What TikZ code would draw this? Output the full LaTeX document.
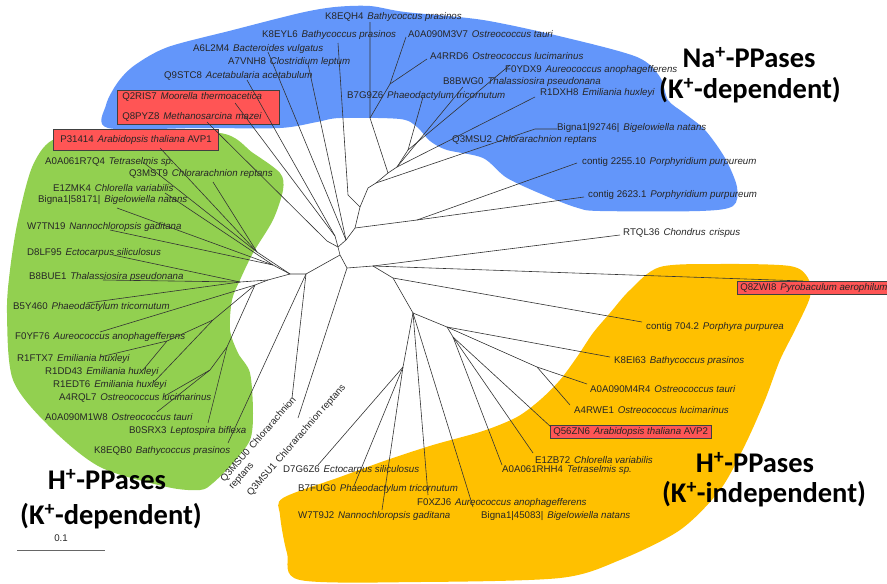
\documentclass[tikz,border=0pt]{standalone}
\usepackage{fontspec}
\setmainfont{Liberation Sans}
\newfontfamily\bigfont{Carlito}
\usepackage{tikz}
\usetikzlibrary{positioning, calc}
\definecolor{naBlue}{RGB}{99,150,250}
\definecolor{hGreen}{RGB}{146,208,80}
\definecolor{hOrange}{RGB}{255,192,0}
\definecolor{boxRed}{RGB}{255,85,85}
\newcommand{\idgap}{\hspace{0.4em}}
\newcommand{\leafname}[2]{#1\idgap\textit{#2}}

\begin{document}
\begin{tikzpicture}[x=1pt, y=-1pt,
	leaf/.style={anchor=west, inner sep=0pt, font=\fontsize{9.7}{11}\selectfont, text=black!85},
	redleaf/.style={leaf, fill=boxRed, draw=black!75, line width=0.6pt, inner xsep=3pt, minimum height=13pt},
	branch/.style={draw=black!80, line width=0.6pt},
	group/.style={font=\bigfont\bfseries\fontsize{28.5}{30}\selectfont, inner sep=0pt}]
	\useasboundingbox (0,0) rectangle (887,584);
	
	% clade areas
	\fill[naBlue] plot[smooth cycle, tension=0.5] coordinates {(108,128) (106,105) (118,82) (135,65) (168,47) (233,30) (300,13) (335,7) (370,6) (405,12) (483,20) (563,37) (637,57) (660,77) (668,100) (684,113) (705,130) (725,158) (737,187) (733,206) (700,211) (600,211) (578,208) (546,196) (507,178) (483,158) (447,150) (430,141) (417,127) (400,119) (340,118) (317,122) (280,128) (200,128)};
	\fill[hGreen] plot[smooth cycle, tension=0.5] coordinates {(57,138) (120,135) (220,133) (253,153) (280,173) (283,190) (273,220) (253,253) (240,280) (232,300) (230,330) (238,353) (250,373) (253,413) (250,440) (233,463) (213,483) (200,490) (167,487) (100,467) (50,427) (13,380) (7,313) (10,270) (18,220) (33,165)};
	\fill[hOrange] plot[smooth cycle, tension=0.5] coordinates {(283,498) (340,477) (387,460) (433,445) (483,431) (517,417) (540,400) (560,380) (577,357) (593,333) (610,313) (630,290) (660,267) (720,264) (790,266) (808,278) (810,297) (795,330) (780,360) (765,400) (745,445) (720,490) (680,530) (620,560) (560,578) (420,582) (300,580) (287,553) (280,515)};
	
	% Na+-PPases labels
	\node[leaf] (l-k8eqh4) at (325,17) {\leafname{K8EQH4}{Bathycoccus prasinos}};
	\node[leaf] (l-k8eyl6) at (262,35) {\leafname{K8EYL6}{Bathycoccus prasinos}};
	\node[leaf] (l-m3v7) at (408,34) {\leafname{A0A090M3V7}{Ostreococcus tauri}};
	\node[leaf] (l-a6l2m4) at (193,49) {\leafname{A6L2M4}{Bacteroides vulgatus}};
	\node[leaf] (l-a4rrd6) at (430,56) {\leafname{A4RRD6}{Ostreococcus lucimarinus}};
	\node[leaf] (l-a7vnh8) at (228,62) {\leafname{A7VNH8}{Clostridium leptum}};
	\node[leaf] (l-f0ydx9) at (505,70) {\leafname{F0YDX9}{Aureococcus anophagefferens}};
	\node[leaf] (l-q9stc8) at (164,76) {\leafname{Q9STC8}{Acetabularia acetabulum}};
	\node[leaf] (l-b8bwg0) at (443,82) {\leafname{B8BWG0}{Thalassiosira pseudonana}};
	\node[leaf] (l-b7g9z6) at (347,96) {\leafname{B7G9Z6}{Phaeodactylum tricornutum}};
	\node[leaf] (l-r1dxh8) at (540,93) {\leafname{R1DXH8}{Emiliania huxleyi}};
	\node[leaf] (l-bigna92) at (557,128) {\leafname{Bigna1|92746|}{Bigelowiella natans}};
	\node[leaf] (l-q3msu2) at (452,140) {\leafname{Q3MSU2}{Chlorarachnion reptans}};
	\node[leaf] (l-c2255) at (582,162) {\leafname{contig 2255.10}{Porphyridium purpureum}};
	\node[leaf] (l-c2623) at (588,195) {\leafname{contig 2623.1}{Porphyridium purpureum}};
	\node[redleaf, anchor=north west, align=left, text width=152pt, inner xsep=5pt, inner ysep=2.5pt] (l-q2ris7) at (117,90) {\leafname{Q2RIS7}{Moorella thermoacetica}\\[9pt]\leafname{Q8PYZ8}{Methanosarcina mazei}};
	\node[leaf] (l-rtql36) at (623,233) {\leafname{RTQL36}{Chondrus\idgap crispus}};
	\node[redleaf] (l-q8zwi8) at (737,287.5) {\leafname{Q8ZWI8}{Pyrobaculum aerophilum}};
	
	% H+-PPases (K+-independent) labels
	\node[leaf] (l-c704) at (646,327) {\leafname{contig 704.2}{Porphyra purpurea}};
	\node[leaf] (l-k8ei63) at (614,361) {\leafname{K8EI63}{Bathycoccus prasinos}};
	\node[leaf] (l-m4r4) at (590,389) {\leafname{A0A090M4R4}{Ostreococcus tauri}};
	\node[leaf] (l-a4rwe1) at (574,410) {\leafname{A4RWE1}{Ostreococcus lucimarinus}};
	\node[redleaf] (l-q56zn6) at (550,432) {Q56ZN6\idgap\textit{Arabidopsis thaliana} AVP2};
	\node[leaf] (l-e1zb72) at (535,460) {\leafname{E1ZB72}{Chlorella variabilis}};
	\node[leaf] (l-rhh4) at (502,470) {\leafname{A0A061RHH4}{Tetraselmis sp.}};
	\node[leaf] (l-d7g6z6) at (283,470) {\leafname{D7G6Z6}{Ectocarpus siliculosus}};
	\node[leaf] (l-b7fug0) at (298,489) {\leafname{B7FUG0}{Phaeodactylum tricornutum}};
	\node[leaf] (l-f0xzj6) at (417,503) {\leafname{F0XZJ6}{Aureococcus anophagefferens}};
	\node[leaf] (l-w7t9j2) at (298,516) {\leafname{W7T9J2}{Nannochloropsis gaditana}};
	\node[leaf] (l-bigna45) at (481,516) {\leafname{Bigna1|45083|}{Bigelowiella natans}};
	
	% H+-PPases (K+-dependent) labels
	\node[redleaf, minimum height=21pt, inner xsep=7pt] (l-p31414) at (53,139.5) {P31414\idgap\textit{Arabidopsis thaliana} AVP1};
	\node[leaf] (l-r7q4) at (45,162) {\leafname{A0A061R7Q4}{Tetraselmis sp.}};
	\node[leaf] (l-q3mst9) at (129,174) {\leafname{Q3MST9}{Chlorarachnion reptans}};
	\node[leaf] (l-e1zmk4) at (53,188) {\leafname{E1ZMK4}{Chlorella variabilis}};
	\node[leaf] (l-bigna58) at (38,200) {\leafname{Bigna1|58171|}{Bigelowiella natans}};
	\node[leaf] (l-w7tn19) at (27,227) {\leafname{W7TN19}{Nannochloropsis gaditana}};
	\node[leaf] (l-d8lf95) at (27,253) {\leafname{D8LF95}{Ectocarpus siliculosus}};
	\node[leaf] (l-b8bue1) at (29,277) {\leafname{B8BUE1}{Thalassiosira pseudonana}};
	\node[leaf] (l-b5y460) at (13,307) {\leafname{B5Y460}{Phaeodactylum tricornutum}};
	\node[leaf] (l-f0yf76) at (15,337) {\leafname{F0YF76}{Aureococcus anophagefferens}};
	\node[leaf] (l-r1ftx7) at (17,359) {\leafname{R1FTX7}{Emiliania huxleyi}};
	\node[leaf] (l-r1dd43) at (45,372) {\leafname{R1DD43}{Emiliania huxleyi}};
	\node[leaf] (l-r1edt6) at (53,385) {\leafname{R1EDT6}{Emiliania huxleyi}};
	\node[leaf] (l-a4rql7) at (59,398) {\leafname{A4RQL7}{Ostreococcus lucimarinus}};
	\node[leaf] (l-m1w8) at (45,417) {\leafname{A0A090M1W8}{Ostreococcus tauri}};
	\node[leaf] (l-b0srx3) at (129,431) {\leafname{B0SRX3}{Leptospira biflexa}};
	\node[leaf] (l-k8eqb0) at (94,451) {\leafname{K8EQB0}{Bathycoccus prasinos}};
	\node[leaf, rotate=49, anchor=north west, align=left] (l-q3msu0) at (219,478) {Q3MSU0\idgap Chlorarachnion\\reptans};
	\node[leaf, rotate=49] (l-q3msu1) at (249,495) {Q3MSU1\idgap Chlorarachnion reptans};
	
	% group titles
	\node[group] (na-title) at (749,58) {Na\textsuperscript{+}-PPases};
	\node[group] (na-sub) at (750,90) {(K\textsuperscript{+}-dependent)};
	\node[group] (hk-title) at (107,480) {H\textsuperscript{+}-PPases};
	\node[group] (hk-sub) at (111,516) {(K\textsuperscript{+}-dependent)};
	\node[group] (hi-title) at (755,463) {H\textsuperscript{+}-PPases};
	\node[group] (hi-sub) at (764,494) {(K\textsuperscript{+}-independent)};
	
	% scale bar
	\coordinate (sb-l) at (17,550);
	\coordinate (sb-r) at (105,550);
	\draw[black!60, line width=0.8pt] (sb-l) -- (sb-r);
	\node[leaf, anchor=center] (sb-label) at (61,538) {0.1};
	
	% inner nodes
	\coordinate (root) at (347,268);
	\coordinate (nb) at (340,255);
	\coordinate (nc) at (338,247);
	\coordinate (nc2) at (346,240);
	\coordinate (nh) at (355,228);
	\coordinate (ni) at (360,207);
	\coordinate (nkb) at (348,195);
	\coordinate (nj) at (368,188);
	\coordinate (nk) at (376,183);
	\coordinate (nbb) at (535,129);
	\coordinate (np) at (388,173);
	\coordinate (nl2) at (370,118);
	\coordinate (nl1) at (390,84);
	\coordinate (nm) at (397,167);
	\coordinate (nn) at (408,150);
	\coordinate (ng) at (417,220);
	\coordinate (nx1) at (335,236);
	\coordinate (nx2) at (327,241);
	\coordinate (nd) at (306,274);
	\coordinate (ne) at (290,274);
	\coordinate (ng1) at (257,252);
	\coordinate (ng2) at (273,265);
	\coordinate (ng6) at (268,280);
	\coordinate (ng3) at (240,282);
	\coordinate (ng7) at (255,285);
	\coordinate (ng11) at (213,320);
	\coordinate (ng12) at (167,341);
	\coordinate (ng9) at (227,347);
	\coordinate (ng10) at (210,370);
	\coordinate (nf) at (373,266);
	\coordinate (nf2) at (393,278);
	\coordinate (nf3) at (413,313);
	\coordinate (nf5) at (403,367);
	\coordinate (nf4) at (447,327);
	\coordinate (nf7) at (453,337);
	\coordinate (no1) at (537,367);
	
	% branch tips
	\coordinate (t-k8eqh4) at (370,22);
	\coordinate (t-k8eyl6) at (338,43);
	\coordinate (t-m3v7) at (406,37);
	\coordinate (t-a4rrd6) at (427,59);
	\coordinate (t-a6l2m4) at (268,52);
	\coordinate (t-a7vnh8) at (308,64);
	\coordinate (t-f0ydx9) at (510,65);
	\coordinate (t-q9stc8) at (247,80);
	\coordinate (t-b8bwg0) at (463,87);
	\coordinate (t-b7g9z6) at (423,97);
	\coordinate (t-r1dxh8) at (535,97);
	\coordinate (t-q2ris7) at (235,103);
	\coordinate (t-q8pyz8) at (207,122);
	\coordinate (t-bigna92) at (557,129);
	\coordinate (t-c2255) at (577,163);
	\coordinate (t-c2623) at (584,197);
	\coordinate (t-rtql36) at (620,235);
	\coordinate (t-q8zwi8) at (803,281);
	\coordinate (t-c704) at (642,322);
	\coordinate (t-k8ei63) at (610,357);
	\coordinate (t-m4r4) at (587,384);
	\coordinate (t-a4rwe1) at (570,405);
	\coordinate (t-q56zn6) at (551,427);
	\coordinate (t-e1zb72) at (533,453);
	\coordinate (t-rhh4) at (502,465);
	\coordinate (t-bigna45) at (473,507);
	\coordinate (t-f0xzj6) at (428,495);
	\coordinate (t-w7t9j2) at (382,510);
	\coordinate (t-b7fug0) at (354,486);
	\coordinate (t-d7g6z6) at (318,465);
	\coordinate (t-q3msu1) at (298,418);
	\coordinate (t-q3msu0) at (292,398);
	\coordinate (t-k8eqb0) at (228,443);
	\coordinate (t-b0srx3) at (208,423);
	\coordinate (t-m1w8) at (157,412);
	\coordinate (t-a4rql7) at (163,397);
	\coordinate (t-r1edt6) at (153,383);
	\coordinate (t-r1dd43) at (143,370);
	\coordinate (t-r1ftx7) at (100,357);
	\coordinate (t-f0yf76) at (100,332);
	\coordinate (t-b5y460) at (87,303);
	\coordinate (t-b8bue1) at (103,280);
	\coordinate (t-d8lf95) at (113,255);
	\coordinate (t-w7tn19) at (110,230);
	\coordinate (t-bigna58) at (117,208);
	\coordinate (t-e1zmk4) at (165,193);
	\coordinate (t-q3mst9) at (213,182);
	\coordinate (t-r7q4) at (143,162);
	\coordinate (t-p31414) at (160,148);
	
	% Na+ branches
	\draw[branch] (root) -- (nb) -- (nc) -- (nc2) -- (nh) -- (ni) -- (nj) -- (nk) -- (np) -- (nm) -- (nn);
	\draw[branch] (nh) -- (ng);
	\draw[branch] (ng) -- (t-c2255);
	\draw[branch] (ng) -- (t-c2623);
	\draw[branch] (ni) -- (nkb) -- (t-k8eyl6);
	\draw[branch] (nk) -- (nbb) -- (t-bigna92);
	\draw[branch] (np) -- (nl2) -- (t-k8eqh4);
	\draw[branch] (nl2) -- (nl1) -- (t-m3v7);
	\draw[branch] (nl1) -- (t-a4rrd6);
	\draw[branch] (nm) -- (t-r1dxh8);
	\draw[branch] (nm) -- (t-b8bwg0);
	\draw[branch] (nn) -- (t-b7g9z6);
	\draw[branch] (nn) -- (t-f0ydx9);
	\draw[branch] (nc2) -- (t-a6l2m4);
	\draw[branch] (nc2) -- (t-a7vnh8);
	\draw[branch] (nc) -- (nx1) -- (t-q9stc8);
	\draw[branch] (nx1) -- (t-q2ris7);
	\draw[branch] (nc) -- (nx2) -- (t-q8pyz8);
	
	% K+-independent branches
	\draw[branch] (root) -- (nf);
	\draw[branch] (nf) -- (t-rtql36);
	\draw[branch] (nf) -- (t-q8zwi8);
	\draw[branch] (nf) -- (nf2) -- (t-c704);
	\draw[branch] (nf2) -- (nf3) -- (nf5);
	\draw[branch] (nf5) -- (t-d7g6z6);
	\draw[branch] (nf5) -- (t-b7fug0);
	\draw[branch] (nf5) -- (t-w7t9j2);
	\draw[branch] (nf3) -- (t-f0xzj6);
	\draw[branch] (nf3) -- (t-bigna45);
	\draw[branch] (nf3) -- (nf4) -- (t-k8ei63);
	\draw[branch] (nf4) -- (no1) -- (t-m4r4);
	\draw[branch] (no1) -- (t-a4rwe1);
	\draw[branch] (nf4) -- (nf7) -- (t-q56zn6);
	\draw[branch] (nf7) -- (t-e1zb72);
	\draw[branch] (nf7) -- (t-rhh4);
	
	% K+-dependent branches
	\draw[branch] (root) -- (t-q3msu1);
	\draw[branch] (nb) -- (nd) -- (ne);
	\draw[branch] (nd) -- (t-q3msu0);
	\draw[branch] (nd) -- (t-k8eqb0);
	\draw[branch] (ne) -- (ng1) -- (t-p31414);
	\draw[branch] (ng1) -- (t-r7q4);
	\draw[branch] (ng1) -- (t-q3mst9);
	\draw[branch] (ne) -- (ng2) -- (t-e1zmk4);
	\draw[branch] (ng2) -- (t-bigna58);
	\draw[branch] (ng2) -- (t-w7tn19);
	\draw[branch] (ne) -- (ng6) -- (ng3) -- (t-d8lf95);
	\draw[branch] (ng3) -- (t-b8bue1);
	\draw[branch] (ng3) -- (t-b5y460);
	\draw[branch] (ng6) -- (ng7) -- (t-f0yf76);
	\draw[branch] (ng7) -- (ng11) -- (ng12) -- (t-r1ftx7);
	\draw[branch] (ng12) -- (t-r1dd43);
	\draw[branch] (ng11) -- (t-r1edt6);
	\draw[branch] (ng7) -- (ng9) -- (ng10) -- (t-a4rql7);
	\draw[branch] (ng10) -- (t-m1w8);
	\draw[branch] (ng9) -- (t-b0srx3);
\end{tikzpicture}
\end{document}
